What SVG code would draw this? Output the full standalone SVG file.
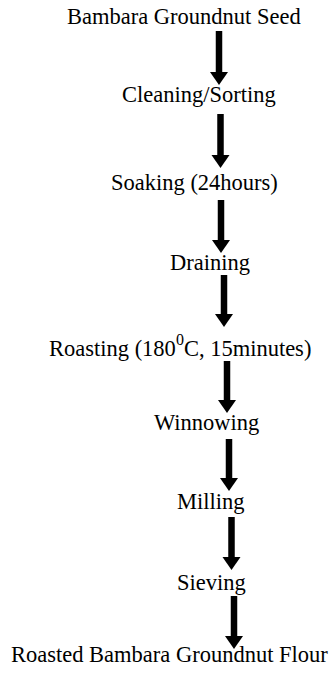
<svg xmlns="http://www.w3.org/2000/svg" width="329" height="674" viewBox="0 0 329 674">
<style>
  text { font-family: "Liberation Serif", "Times New Roman", serif; font-size: 22.5px; fill: #000; }
  .sup { font-size: 16px; }
  .arrow { stroke: #000; stroke-width: 6.5; marker-end: url(#head); }
</style>
<defs>
  <marker id="head" markerUnits="userSpaceOnUse" viewBox="0 -9 13 18" refX="0" refY="0" markerWidth="13" markerHeight="18" orient="auto" overflow="visible">
    <path d="M0,-9 L13,0 L0,9 Z" fill="#000"/>
  </marker>
</defs>
<rect width="329" height="674" fill="#fff"/>
<g id="n1"><text x="67" y="24">Bambara Groundnut Seed</text></g>
<g id="n2"><text x="122" y="102">Cleaning/Sorting</text></g>
<g id="n3"><text x="111" y="190">Soaking (24hours)</text></g>
<g id="n4"><text x="170" y="270">Draining</text></g>
<g id="n5"><text x="49" y="356">Roasting (180<tspan class="sup" dy="-11">0</tspan><tspan dy="11">C, 15minutes)</tspan></text></g>
<g id="n6"><text x="154" y="430">Winnowing</text></g>
<g id="n7"><text x="177" y="509">Milling</text></g>
<g id="n8"><text x="177" y="590">Sieving</text></g>
<g id="n9"><text x="11" y="662">Roasted Bambara Groundnut Flour</text></g>
<g id="connectors">
  <line class="arrow" x1="219" y1="31" x2="219" y2="72"/>
  <line class="arrow" x1="220.5" y1="114" x2="220.5" y2="155"/>
  <line class="arrow" x1="221" y1="200" x2="221" y2="240"/>
  <line class="arrow" x1="224" y1="275" x2="224" y2="314"/>
  <line class="arrow" x1="227" y1="361" x2="227" y2="400"/>
  <line class="arrow" x1="229" y1="439" x2="229" y2="478"/>
  <line class="arrow" x1="231.5" y1="517" x2="231.5" y2="557"/>
  <line class="arrow" x1="234" y1="596" x2="234" y2="636"/>
</g>
</svg>
